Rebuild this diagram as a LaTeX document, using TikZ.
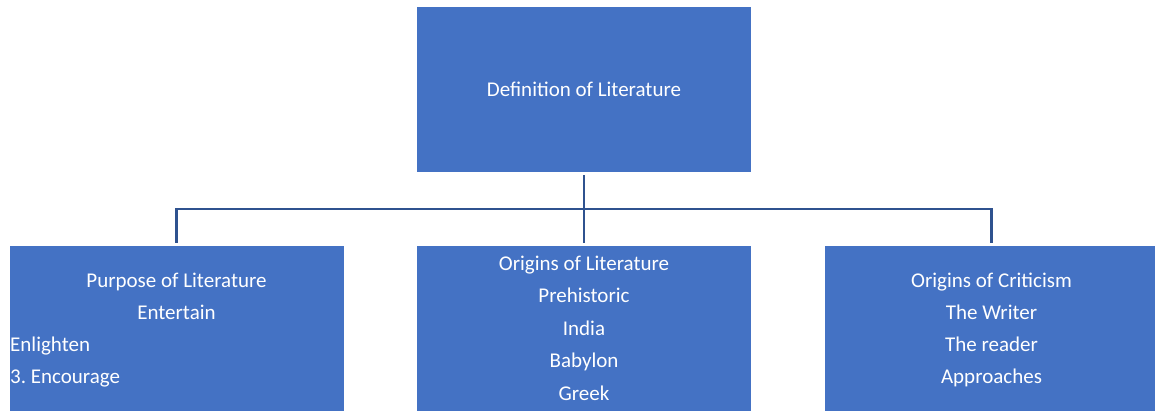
\documentclass[tikz,border=0pt]{standalone}
\usepackage{fontspec}
\setmainfont{Carlito}
\frenchspacing
\definecolor{boxblue}{HTML}{4472C4}
\definecolor{linkblue}{HTML}{2F528F}
\tikzset{
  topicbox/.style={fill=boxblue, minimum width=334pt, minimum height=166pt, inner sep=0pt},
  boxtext/.style={text=white, font=\fontsize{21}{25}\selectfont, anchor=base, inner sep=0pt},
  link/.style={draw=linkblue, line width=2.2pt},
}
\begin{document}
\begin{tikzpicture}[x=1pt, y=-1pt]
    \useasboundingbox (0,0) rectangle (1155,410);
        % top box
        \node[topicbox, minimum height=165pt] (defn) at (584,89.5) {};
        \node[boxtext] (defntxt) at (584,96) {Definition of Literature};
        % bottom boxes
        \node[topicbox] (purpose) at (176.5,329) {};
        \node[topicbox] (origlit) at (584,329) {};
        \node[topicbox] (origcrit) at (991.5,329) {};
        \node[boxtext] (purp1) at (176.5,287) {Purpose of Literature};
        \node[boxtext] (purp2) at (176.5,319) {Entertain};
        \node[boxtext, anchor=base west] (purp3) at (10,351) {Enlighten};
        \node[boxtext, anchor=base west] (purp4) at (10,383.5) {3.\ Encourage};
        \foreach \txt [count=\i from 0] in {Origins of Literature, Prehistoric, India, Babylon, Greek}
            \node[boxtext] (orig\i) at ({584},{270+32.5*\i}) {\txt};
        \foreach \txt [count=\i from 0] in {Origins of Criticism, The Writer, The reader, Approaches}
            \node[boxtext] (crit\i) at ({991.5},{287+32.2*\i}) {\txt};
        % connectors
        \coordinate (bar) at (584,209);
        \draw[link] ([yshift=-3pt]defn.south) -- ([yshift=3pt]origlit.north);
        \draw[link] ([yshift=3pt]purpose.north) |- (bar) -| ([yshift=3pt]origcrit.north);
    \end{tikzpicture}
\end{document}
